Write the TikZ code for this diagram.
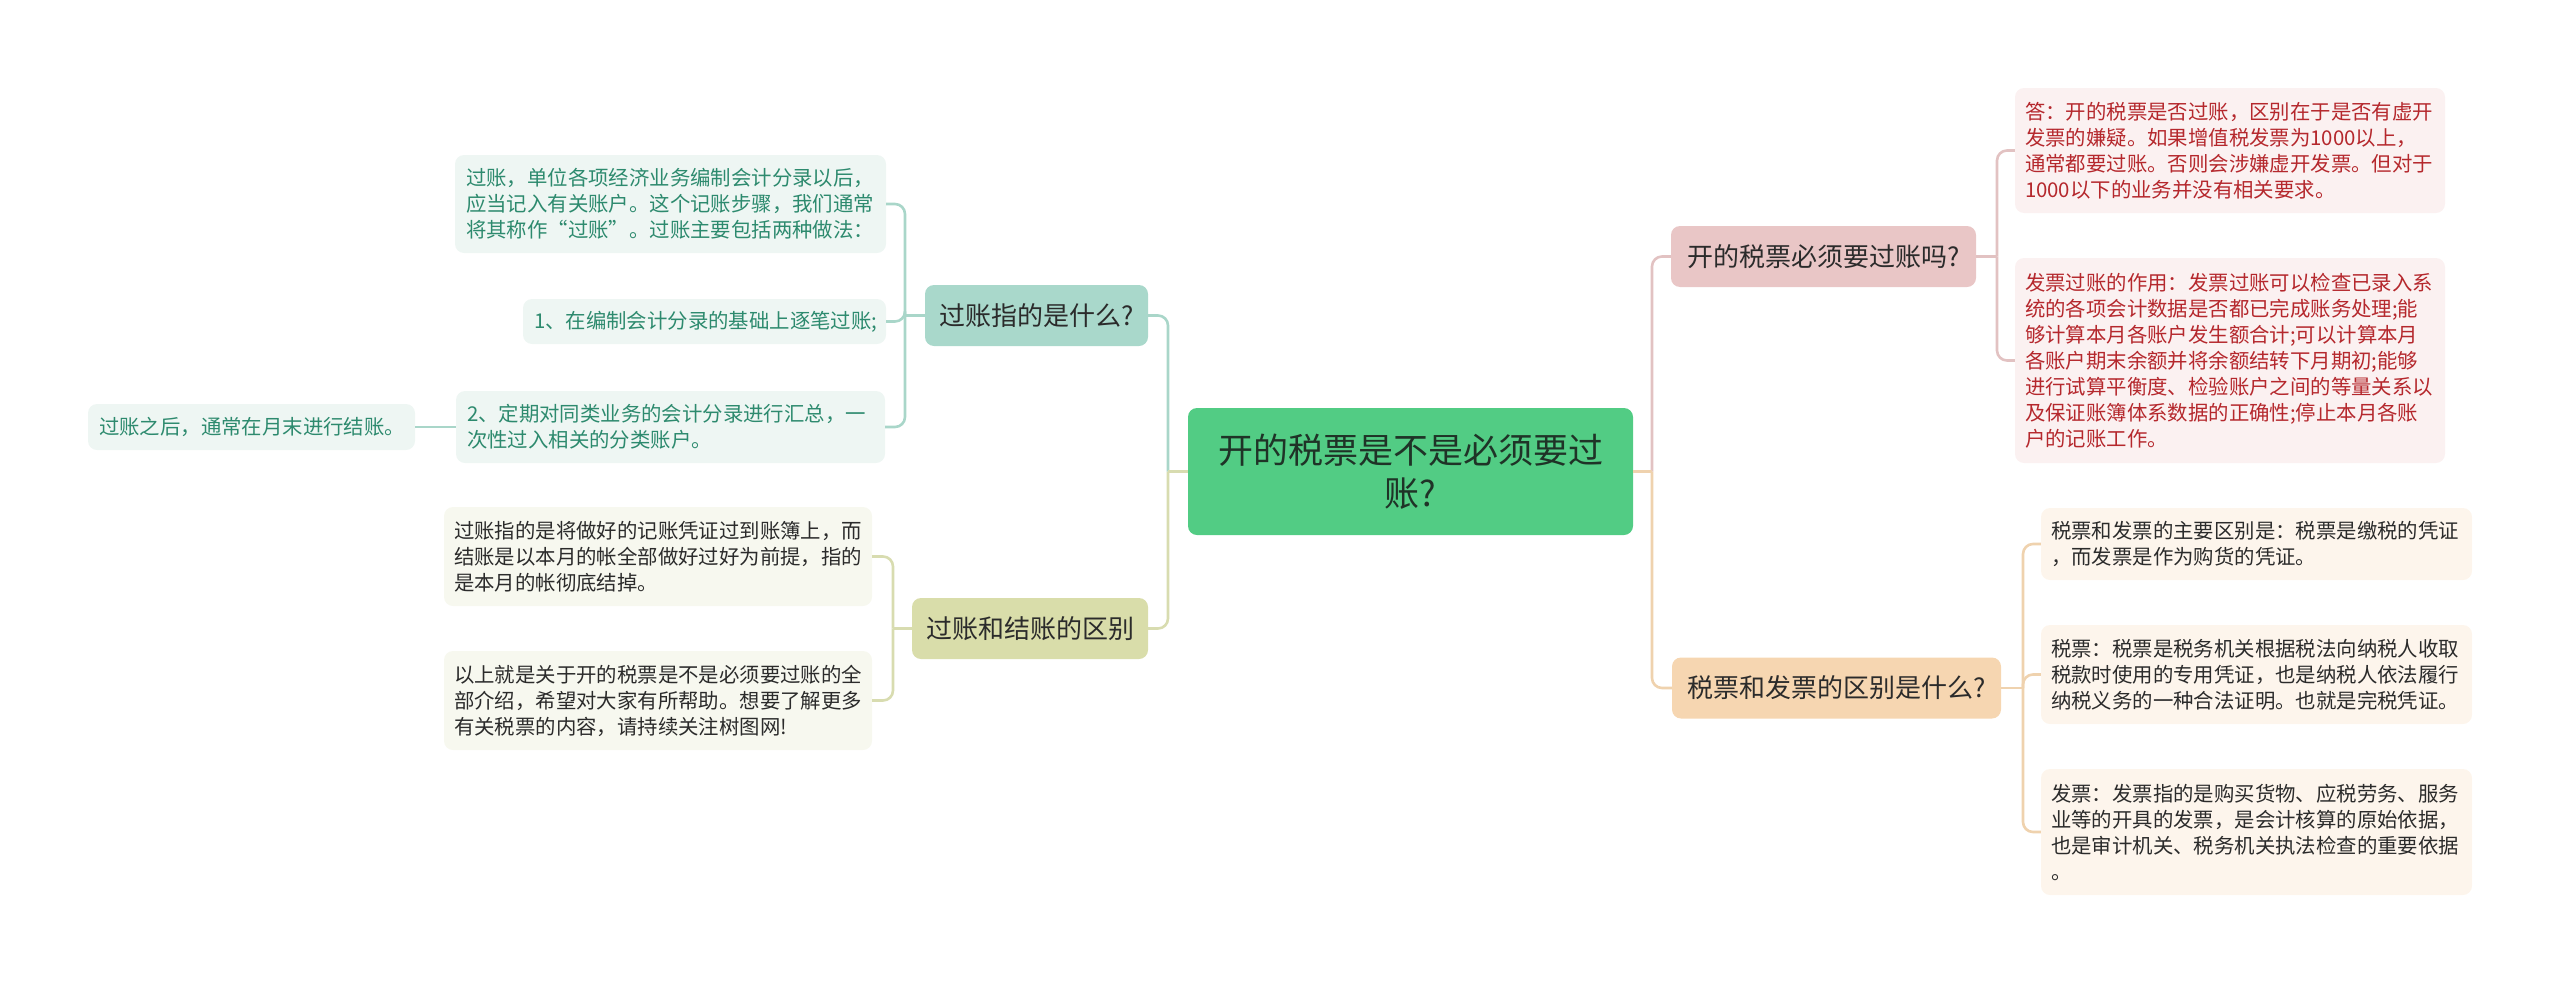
\documentclass[tikz,border=0pt]{standalone}
\usepackage{fontspec}
\setmainfont{Noto Sans CJK SC}
\definecolor{cgreen}{HTML}{52CC84}
\definecolor{ctxt}{HTML}{1F3327}
\definecolor{dtxt}{HTML}{2B2B2B}
\definecolor{rfill}{HTML}{E9C6C6}
\definecolor{rleaf}{HTML}{FBF1F1}
\definecolor{rtxt}{HTML}{B5282D}
\definecolor{rline}{HTML}{E2C2C2}
\definecolor{ofill}{HTML}{F6D6B1}
\definecolor{oleaf}{HTML}{FDF5EC}
\definecolor{oline}{HTML}{EFD2AE}
\definecolor{tfill}{HTML}{A9D8CB}
\definecolor{tleaf}{HTML}{EEF6F3}
\definecolor{ttxt}{HTML}{2D8A6E}
\definecolor{tline}{HTML}{A9D6C9}
\definecolor{gfill}{HTML}{D9DDAA}
\definecolor{gleaf}{HTML}{F7F8EF}
\definecolor{gline}{HTML}{D8DCB0}
\begin{document}
\begin{tikzpicture}[x=1pt,y=-1pt,
  box/.style={rounded corners=9pt, inner xsep=0pt, inner ysep=0pt, anchor=center},
  leaf/.style={box, align=left, font=\fontsize{20.4}{26}\selectfont},
  branch/.style={box, align=center, text=dtxt, font=\fontsize{26}{30}\selectfont, minimum height=61pt},
  conn/.style={line width=2.6pt, rounded corners=10pt},
]
\useasboundingbox (0,0) rectangle (2560,983);

% central
\node[box, fill=cgreen, text=ctxt, align=center, text width=420pt,
      minimum width=445pt, minimum height=127pt,
      font=\fontsize{35}{43}\selectfont] (c) at (1410.5,471.5)
  {开的税票是不是必须要过\\账?};

% right branches
\node[branch, fill=rfill, minimum width=305pt] (r1) at (1823.5,256.5) {开的税票必须要过账吗?};
\node[branch, fill=ofill, minimum width=329pt] (r2) at (1836.5,688) {税票和发票的区别是什么?};

\node[leaf, fill=rleaf, text=rtxt, minimum width=430pt, minimum height=125pt, text width=410pt] (r1a) at (2230,150.5)
  {答：开的税票是否过账，区别在于是否有虚开\\发票的嫌疑。如果增值税发票为1000以上，\\通常都要过账。否则会涉嫌虚开发票。但对于\\1000以下的业务并没有相关要求。};
\node[leaf, fill=rleaf, text=rtxt, minimum width=430pt, minimum height=205pt, text width=410pt] (r1b) at (2230,360.5)
  {发票过账的作用：发票过账可以检查已录入系\\统的各项会计数据是否都已完成账务处理;能\\够计算本月各账户发生额合计;可以计算本月\\各账户期末余额并将余额结转下月期初;能够\\进行试算平衡度、检验账户之间的等量关系以\\及保证账簿体系数据的正确性;停止本月各账\\户的记账工作。};

\node[leaf, fill=oleaf, text=dtxt, minimum width=431pt, minimum height=72pt, text width=411pt] (r2a) at (2256.5,544)
  {税票和发票的主要区别是：税票是缴税的凭证\\，而发票是作为购货的凭证。};
\node[leaf, fill=oleaf, text=dtxt, minimum width=431pt, minimum height=99pt, text width=411pt] (r2b) at (2256.5,674.5)
  {税票：税票是税务机关根据税法向纳税人收取\\税款时使用的专用凭证，也是纳税人依法履行\\纳税义务的一种合法证明。也就是完税凭证。};
\node[leaf, fill=oleaf, text=dtxt, minimum width=431pt, minimum height=126pt, text width=411pt] (r2c) at (2256.5,832)
  {发票：发票指的是购买货物、应税劳务、服务\\业等的开具的发票，是会计核算的原始依据，\\也是审计机关、税务机关执法检查的重要依据\\。};

% left branches
\node[branch, fill=tfill, minimum width=223pt] (l1) at (1036.5,315.5) {过账指的是什么?};
\node[branch, fill=gfill, minimum width=236pt] (l2) at (1030,628.5) {过账和结账的区别};

\node[leaf, fill=tleaf, text=ttxt, minimum width=431pt, minimum height=98pt, text width=409pt] (l1a) at (670.5,204)
  {过账，单位各项经济业务编制会计分录以后，\\应当记入有关账户。这个记账步骤，我们通常\\将其称作“过账”。过账主要包括两种做法：};
\node[leaf, fill=tleaf, text=ttxt, minimum width=363pt, minimum height=45pt, text width=341pt] (l1b) at (704.5,321.5)
  {1、在编制会计分录的基础上逐笔过账;};
\node[leaf, fill=tleaf, text=ttxt, minimum width=429pt, minimum height=72pt, text width=407pt] (l1c) at (670.5,427)
  {2、定期对同类业务的会计分录进行汇总，一\\次性过入相关的分类账户。};
\node[leaf, fill=tleaf, text=ttxt, minimum width=327pt, minimum height=46pt, text width=305pt] (l1d) at (251.5,427)
  {过账之后，通常在月末进行结账。};

\node[leaf, fill=gleaf, text=dtxt, minimum width=428pt, minimum height=99pt, text width=408pt] (l2a) at (658,556.5)
  {过账指的是将做好的记账凭证过到账簿上，而\\结账是以本月的帐全部做好过好为前提，指的\\是本月的帐彻底结掉。};
\node[leaf, fill=gleaf, text=dtxt, minimum width=428pt, minimum height=99pt, text width=408pt] (l2b) at (658,700.5)
  {以上就是关于开的税票是不是必须要过账的全\\部介绍，希望对大家有所帮助。想要了解更多\\有关税票的内容，请持续关注树图网!};

% junction coordinates
\coordinate (jr) at (1652,471.5);
\coordinate (jl) at (1168,471.5);
\coordinate (j1) at (1997,256.5);
\coordinate (j2) at (2023,688);
\coordinate (k1) at (905,315.5);
\coordinate (k2) at (893,628.5);

% central connectors
\draw[conn, rline] (jr) |- (r1.west);
\draw[conn, oline] (jr) |- (r2.west);
\draw[conn, oline] (c.east) -- (jr);
\draw[conn, tline] (jl) |- (l1.east);
\draw[conn, gline] (jl) |- (l2.east);
\draw[conn, gline] (c.west) -- (jl);

% right sub connectors
\draw[conn, rline] (r1.east) -- (j1);
\draw[conn, rline] (j1) |- (r1a.west);
\draw[conn, rline] (j1) |- (r1b.west);
\draw[conn, oline] (r2.east) -- (j2);
\draw[conn, oline] (j2) |- (r2a.west);
\draw[conn, oline] (j2) |- (r2b.west);
\draw[conn, oline] (j2) |- (r2c.west);

% left sub connectors
\draw[conn, tline] (l1.west) -- (k1);
\draw[conn, tline] (k1) |- (l1a.east);
\draw[conn, tline] (k1) |- (l1b.east);
\draw[conn, tline] (k1) |- (l1c.east);
\draw[conn, tline] (l1c.west) -- (l1d.east);
\draw[conn, gline] (l2.west) -- (k2);
\draw[conn, gline] (k2) |- (l2a.east);
\draw[conn, gline] (k2) |- (l2b.east);
\end{tikzpicture}
\end{document}
